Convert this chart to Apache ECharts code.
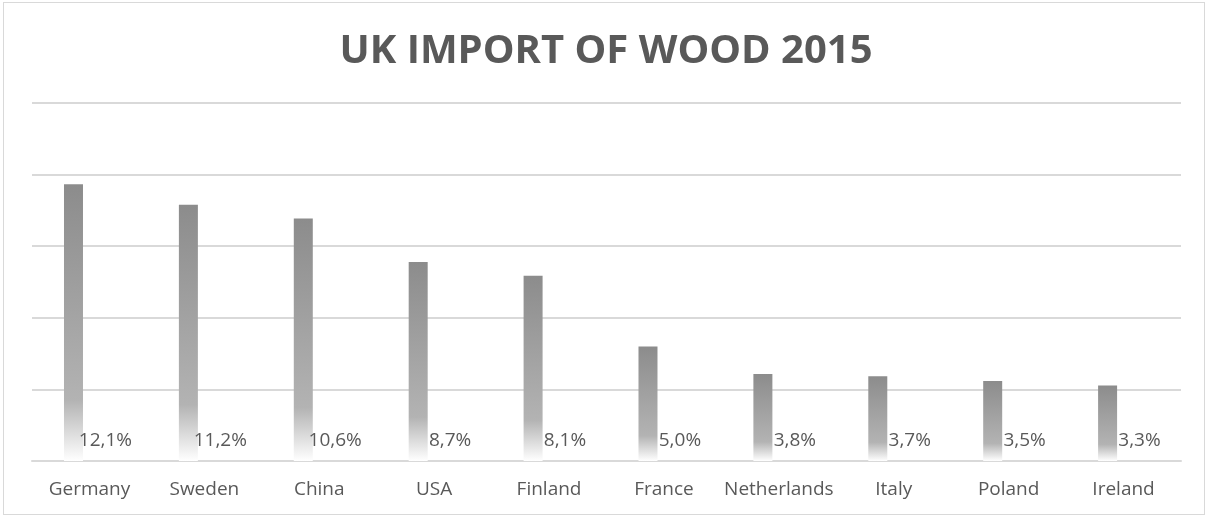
<!DOCTYPE html>
<html>
<head>
<meta charset="utf-8">
<script src="https://cdn.jsdelivr.net/npm/echarts@6/dist/echarts.min.js"></script>
<style>
  html, body { margin: 0; padding: 0; background: #ffffff; }
  #frame {
    position: absolute; left: 3px; top: 2px; width: 1202px; height: 513px;
    border: 1px solid #d9d9d9; box-sizing: border-box;
  }
  #chart { position: absolute; left: 0; top: 0; width: 1207px; height: 518px; }
</style>
</head>
<body>
<div id="frame"></div>
<div id="chart"></div>
<script>
var countries = ["Germany", "Sweden", "China", "USA", "Finland", "France", "Netherlands", "Italy", "Poland", "Ireland"];
var shares = [12.1, 11.2, 10.6, 8.7, 8.1, 5.0, 3.8, 3.7, 3.5, 3.3];
var axisMax = 15.65;
var axisStep = 3.13;

var textGrey = "#595959";

function pct(v) {
  return v.toFixed(1).replace(".", ",") + "%";
}

var myChart = echarts.init(document.getElementById("chart"), null, { width: 1207, height: 518 });
var option = {
  animation: false,
  title: {
    text: "UK IMPORT OF WOOD 2015",
    left: 601,
    textAlign: "center",
    top: 27,
    textStyle: { fontFamily: "Open Sans", fontWeight: "bold", fontSize: 40, color: textGrey }
  },
  grid: { left: 32, right: 26, top: 103, bottom: 57 },
  xAxis: {
    type: "category",
    data: countries,
    axisTick: { show: false },
    axisLine: { lineStyle: { color: "#d9d9d9", width: 2 } },
    axisLabel: { interval: 0, color: textGrey, fontFamily: "Open Sans", fontSize: 19, margin: 19 }
  },
  yAxis: {
    type: "value",
    min: 0,
    max: axisMax,
    interval: axisStep,
    axisLabel: { show: false },
    axisLine: { show: false },
    axisTick: { show: false },
    splitLine: { lineStyle: { color: "#d9d9d9", width: 2 } }
  },
  series: [
    {
      type: "bar",
      data: shares,
      barWidth: 19,
      barGap: "68%",
      itemStyle: {
        color: new echarts.graphic.LinearGradient(0, 0, 0, 1, [
          { offset: 0, color: "#8c8c8c" },
          { offset: 0.78, color: "#b3b3b3" },
          { offset: 1, color: "#ffffff" }
        ])
      }
    },
    {
      type: "bar",
      data: shares,
      barWidth: 19,
      itemStyle: { color: "rgba(0,0,0,0)" },
      label: {
        show: true,
        position: "insideBottom",
        distance: 11,
        color: textGrey,
        fontFamily: "Open Sans",
        fontSize: 19,
        formatter: function (p) { return pct(p.value); }
      }
    }
  ]
};
myChart.setOption(option);
</script>
</body>
</html>
